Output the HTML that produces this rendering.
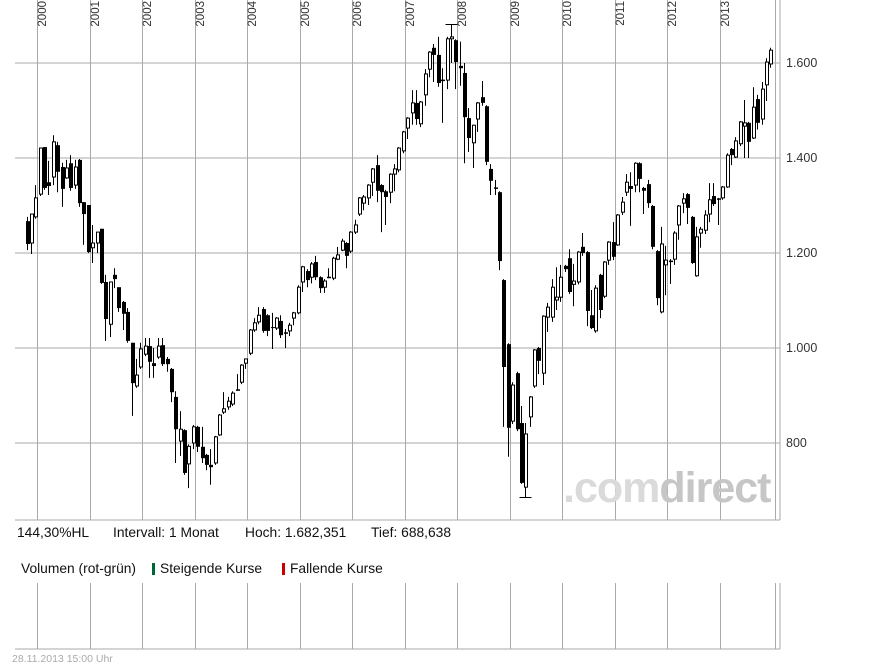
<!DOCTYPE html>
<html><head><meta charset="utf-8"><style>
html,body{margin:0;padding:0;background:#fff;}
svg{display:block;font-family:"Liberation Sans",sans-serif;}
</style></head><body>
<svg id="chart" width="895" height="669" viewBox="0 0 895 669">
<g id="grid"></g>
<g id="watermark">
<text x="563" y="502" font-size="43" font-weight="bold" fill="#dadada" letter-spacing="-1">.com<tspan fill="#c6c6c6">direct</tspan></text>
</g>
<g id="candles"></g>
<g id="labels"></g>
<text x="17" y="537" font-size="13.8" fill="#111">144,30%HL</text>
<text x="113" y="537" font-size="13.8" fill="#111">Intervall: 1 Monat</text>
<text x="245" y="537" font-size="13.8" fill="#111">Hoch: 1.682,351</text>
<text x="371" y="537" font-size="13.8" fill="#111">Tief:  688,638</text>
<text x="21" y="573" font-size="13.8" fill="#111">Volumen (rot-grün)</text>
<rect x="152" y="563" width="3" height="12" fill="#006633"></rect>
<text x="160" y="573" font-size="13.8" fill="#111">Steigende Kurse</text>
<rect x="282" y="563" width="3" height="12" fill="#cc0000"></rect>
<text x="290" y="573" font-size="13.8" fill="#111">Fallende Kurse</text>
<text x="12" y="662" font-size="10.5" fill="#aaa">28.11.2013 15:00 Uhr</text>
</svg>
<script>
const opens=[1267,1221,1276,1324,1423,1349,1360,1427,1381,1358,1389,1343,1396,1307,1301,1211,1221,1251,1139,1050,1154,1128,1097,1076,1011,920,960,987,1004,968,981,1006,977,956,897,804,827,756,800,834,792,775,754,758,817,865,876,882,912,928,968,989,1038,1055,1082,1069,1044,1042,1057,1032,1036,1063,1074,1139,1162,1149,1181,1149,1128,1149,1147,1187,1206,1221,1204,1244,1282,1305,1316,1349,1385,1343,1330,1328,1366,1375,1415,1463,1495,1516,1472,1533,1587,1632,1617,1564,1564,1651,1648,1594,1579,1484,1432,1482,1528,1509,1377,1337,1328,1143,1008,846,947,842,707,855,920,1000,947,1065,1065,1101,1107,1173,1189,1134,1139,1213,1202,1069,1036,1154,1109,1185,1223,1217,1286,1328,1341,1343,1389,1337,1345,1299,1204,1076,1175,1183,1187,1259,1305,1324,1276,1152,1242,1248,1282,1320,1314,1316,1339,1419,1402,1430,1467,1474,1442,1524,1482,1554,1598];
const highs=[1276,1282,1343,1421,1423,1394,1448,1434,1390,1396,1406,1396,1398,1307,1301,1259,1244,1251,1154,1139,1168,1128,1099,1084,1011,977,1011,1021,1021,1000,1021,1021,981,958,909,867,829,797,838,836,834,777,787,815,861,907,897,909,945,966,977,1040,1063,1086,1086,1071,1074,1065,1069,1040,1053,1076,1132,1173,1166,1181,1194,1151,1145,1168,1192,1213,1230,1223,1246,1270,1318,1322,1345,1379,1406,1345,1333,1368,1387,1423,1457,1486,1543,1543,1520,1587,1625,1640,1655,1589,1655,1682,1650,1645,1600,1505,1470,1518,1562,1511,1387,1354,1330,1145,1010,928,950,878,842,899,998,1002,1069,1095,1145,1170,1175,1175,1208,1177,1204,1242,1204,1122,1132,1156,1183,1225,1265,1282,1318,1366,1370,1391,1391,1339,1354,1301,1206,1255,1215,1187,1246,1301,1326,1326,1278,1255,1255,1290,1347,1347,1316,1341,1410,1421,1444,1478,1522,1476,1549,1533,1560,1610,1632];
const lows=[1206,1198,1272,1320,1333,1322,1343,1328,1297,1356,1331,1335,1297,1217,1200,1179,1200,1135,1015,1023,1126,1076,1038,1011,857,916,956,983,937,937,977,962,950,886,758,773,733,705,787,781,758,743,712,754,815,861,870,878,910,924,956,985,1034,1050,1032,1025,998,1038,1021,1000,1025,1048,1071,1118,1128,1136,1143,1116,1116,1147,1143,1185,1204,1168,1200,1240,1278,1290,1301,1320,1307,1244,1259,1305,1330,1370,1410,1440,1470,1470,1465,1510,1570,1560,1550,1474,1545,1600,1545,1552,1389,1413,1379,1455,1510,1385,1322,1322,1164,834,771,840,825,714,686,834,916,945,922,1034,1055,1080,1097,1160,1114,1088,1134,1194,1046,1040,1032,1063,1105,1175,1185,1215,1280,1320,1257,1328,1328,1282,1295,1208,1090,1073,1111,1135,1175,1228,1284,1261,1177,1150,1211,1240,1265,1299,1259,1312,1337,1385,1400,1425,1400,1400,1440,1460,1470,1520,1590];
const closes=[1219,1282,1316,1421,1337,1341,1434,1371,1335,1379,1337,1381,1305,1282,1202,1221,1244,1137,1061,1139,1145,1084,1072,1015,926,943,998,1004,971,962,1004,966,966,907,829,829,737,793,834,792,768,754,749,813,859,872,888,905,912,964,977,1038,1053,1069,1036,1036,1042,1063,1027,1032,1048,1074,1128,1171,1143,1177,1149,1126,1141,1149,1189,1196,1225,1194,1244,1259,1316,1318,1343,1377,1331,1328,1318,1366,1377,1421,1455,1484,1516,1482,1518,1577,1623,1617,1558,1564,1651,1655,1602,1589,1486,1442,1469,1516,1516,1392,1352,1337,1183,960,832,922,829,716,819,897,996,973,1067,1086,1128,1107,1149,1166,1118,1141,1202,1200,1078,1042,1126,1080,1181,1223,1192,1280,1307,1349,1335,1389,1356,1331,1305,1213,1105,1219,1185,1183,1242,1299,1314,1295,1179,1234,1250,1280,1312,1303,1314,1339,1406,1406,1436,1476,1474,1434,1507,1474,1545,1602,1627];
const years=[2000,2001,2002,2003,2004,2005,2006,2007,2008,2009,2010,2011,2012,2013];
const yTicks=[800,1000,1200,1400,1600];
const yTickLabels=["800","1.000","1.200","1.400","1.600"];

const NS="http://www.w3.org/2000/svg";
const PL=15,PR=780,PT=0,PB=520,VT=583,VB=649;
function yS(v){return 63+(1600-v)*0.475;}
function xS(i){return 26.5+i*4.375;}
function mk(tag,attrs,parent){const e=document.createElementNS(NS,tag);for(const k in attrs)e.setAttribute(k,attrs[k]);parent.appendChild(e);return e;}
const grid=document.getElementById('grid'),cg=document.getElementById('candles'),lg=document.getElementById('labels');
yTicks.forEach((v,k)=>{
  const l=mk('line',{x1:PL,x2:PR,y1:yS(v),y2:yS(v),stroke:'#aaa','stroke-width':1},grid);
  
  
  const t=mk('text',{x:786,y:yS(v)+4,'font-size':12.5,fill:'#333'},lg);
  t.textContent=yTickLabels[k];
  
  
});
years.forEach(yr=>{
  const x=Math.round(xS((yr-2000)*12+3-0.5))+0.5;
  const l=mk('line',{x1:x,x2:x,y1:PT,y2:PB,stroke:'#aaa','stroke-width':1},grid);
  
  
  const l2=mk('line',{x1:x,x2:x,y1:VT,y2:VB,stroke:'#aaa','stroke-width':1},grid);
  
  
  const t=mk('text',{x:0,y:0,'font-size':11.5,fill:'#333','text-anchor':'end',transform:`translate(${x+8.5},1) rotate(-90)`},lg);
  t.textContent=yr;
  
  
});
[[PL,PB,PR,PB],[775.5,PT,775.5,PB],[PR,PT,PR,PB],[PL,VB,PR,VB],[775.5,VT,775.5,VB],[PR,VT,PR,VB]].forEach(a=>{
  const l=mk('line',{x1:a[0],y1:a[1],x2:a[2],y2:a[3],stroke:'#aaa','stroke-width':1},grid);
  
  
});
closes.forEach((c,i)=>{
  const o=opens[i],h=highs[i],lo=lows[i];
  const x=Math.round(xS(i));
  const g=mk('g',{},cg);
  
  
  mk('line',{x1:x+0.5,x2:x+0.5,y1:yS(h),y2:yS(lo),stroke:'#000','stroke-width':1},g);
  const top=yS(Math.max(o,c)),bot=yS(Math.min(o,c));
  const hgt=Math.max(bot-top,1);
  if(c<o){mk('rect',{x:x-1,y:top,width:4,height:hgt,fill:'#000'},g);}
  else if(c===o){mk('rect',{x:x-1,y:top-0.5,width:4,height:1.5,fill:'#000'},g);}
  else{mk('rect',{x:x-0.5,y:top,width:3,height:hgt,fill:'#fff',stroke:'#000','stroke-width':1},g);}
});
function cap(i,v){const x=Math.round(xS(i))+0.5;const l=mk('line',{x1:x-6,x2:x+6,y1:Math.round(yS(v))+0.5,y2:Math.round(yS(v))+0.5,stroke:'#000','stroke-width':1},cg);
  
  }
const hiIdx=highs.indexOf(Math.max(...highs)),loIdx=lows.indexOf(Math.min(...lows));
cap(hiIdx,highs[hiIdx]);cap(loIdx,lows[loIdx]);
</script>
</body></html>
